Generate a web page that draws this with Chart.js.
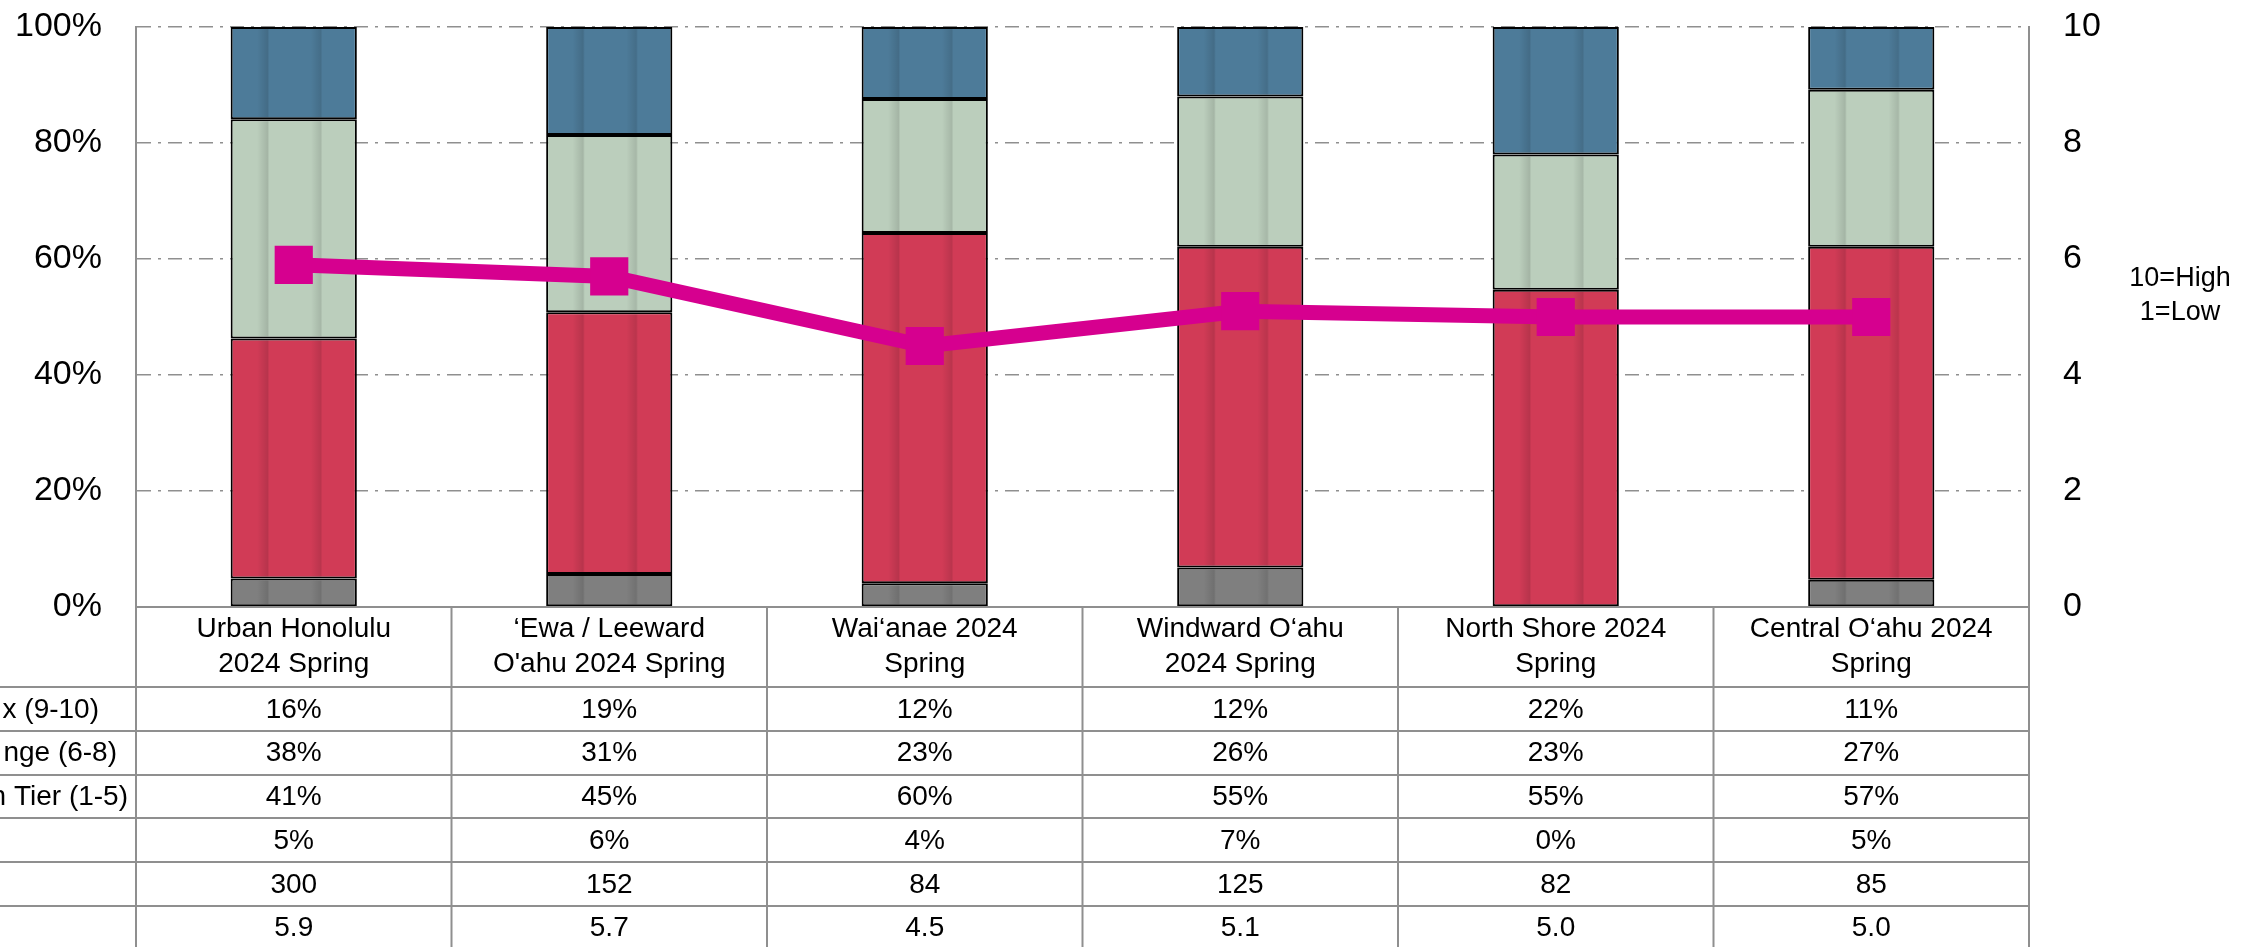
<!DOCTYPE html>
<html>
<head>
<meta charset="utf-8">
<script src="https://cdn.jsdelivr.net/npm/chart.js@4"></script>
<style>
  body { margin: 0; background: #fff; }
  #wrap { width: 2261px; height: 947px; position: relative; }
</style>
</head>
<body>
<div id="wrap"><canvas id="c"></canvas></div>
<script>
// categorías (encabezado de la tabla)
const regions = [
  ["Urban Honolulu", "2024 Spring"],
  ["‘Ewa / Leeward", "O'ahu 2024 Spring"],
  ["Wai‘anae 2024", "Spring"],
  ["Windward O‘ahu", "2024 Spring"],
  ["North Shore 2024", "Spring"],
  ["Central O‘ahu 2024", "Spring"],
];
// segmentos de las barras (%)
const topBox = [15.9, 18.6, 12.4, 12.0, 22.0, 10.8];
const midRange = [37.8, 30.6, 23.1, 25.9, 23.3, 27.1];
const lowTier = [41.4, 45.1, 60.4, 55.3, 54.7, 57.4];
const noAnswer = [4.9, 5.7, 4.1, 6.8, 0, 4.7];
// otras filas de la tabla
const counts = [300, 152, 84, 125, 82, 85];
const avgScore = [5.9, 5.7, 4.5, 5.1, 5.0, 5.0];
// etiquetas de fila (cortadas a la izquierda en el original)
const rowLabels = ["x (9-10)", "nge (6-8)", "n Tier (1-5)", "", "", ""];
const rowLabelEnds = [99, 117, 128, 0, 0, 0];
const yTicks = [0, 20, 40, 60, 80, 100];

const FONT = "'Liberation Sans', Arial, sans-serif";
const GRIDC = "#8f8f8f";

//franjas sombreadas verticales dentro de cada barra
const stripePlugin = {
  id: "stripes",
  afterDatasetDraw(chart, args) {
    const meta = args.meta;
    if (meta.type !== "bar") return;
    const ctx = chart.ctx;
    ctx.save();
    meta.data.forEach((el) => {
      const p = el.getProps(["x", "y", "base", "width"], true);
      const l = p.x - p.width / 2 + 2, r = p.x + p.width / 2 - 2;
      const t = Math.min(p.y, p.base) + 2, b = Math.max(p.y, p.base) - 2;
      if (b - t <= 0) return;
      const g = ctx.createLinearGradient(l, 0, r, 0);
      g.addColorStop(0, "rgba(0,0,0,0)");
      g.addColorStop(0.2, "rgba(0,0,0,0)");
      g.addColorStop(0.285, "rgba(0,0,0,0.12)");
      g.addColorStop(0.3, "rgba(0,0,0,0)");
      g.addColorStop(0.64, "rgba(0,0,0,0)");
      g.addColorStop(0.72, "rgba(0,0,0,0.11)");
      g.addColorStop(0.735, "rgba(0,0,0,0)");
      g.addColorStop(1, "rgba(0,0,0,0)");
      ctx.fillStyle = g;
      ctx.fillRect(l, t, r - l, b - t);
    });
    ctx.restore();
  },
};

//tabla de datos debajo del gráfico
const tablePlugin = {
  id: "table",
  afterDraw(chart) {
    const { ctx, chartArea: a, scales } = chart;
    const x = scales.x;
    const top = a.bottom, headH = 80, rowH = 43.75;
    const H = chart.height;
    ctx.save();
    ctx.strokeStyle = GRIDC;
    ctx.lineWidth = 2;
    ctx.beginPath();
    ctx.moveTo(a.left, top);
    ctx.lineTo(a.right, top);
    for (let r = 0; r <= 6; r++) {
      const y = Math.round(top + headH + r * rowH);
      ctx.moveTo(0, y);
      ctx.lineTo(a.right, y);
    }
    // bordes verticales
    ctx.moveTo(a.left, a.top);
    ctx.lineTo(a.left, H);
    ctx.moveTo(a.right, a.top);
    ctx.lineTo(a.right, H);
    for (let i = 1; i < regions.length; i++) {
      const bx = (x.getPixelForValue(i - 1) + x.getPixelForValue(i)) / 2;
      ctx.moveTo(bx, top);
      ctx.lineTo(bx, H);
    }
    ctx.stroke();

    // textos
    ctx.fillStyle = "#000";
    ctx.font = "28px " + FONT;
    ctx.textBaseline = "middle";
    const rows = [
      topBox.map((v) => Math.round(v) + "%"),
      midRange.map((v) => Math.round(v) + "%"),
      lowTier.map((v) => Math.round(v) + "%"),
      noAnswer.map((v) => Math.round(v) + "%"),
      counts.map((v) => String(v)),
      avgScore.map((v) => v.toFixed(1)),
    ];
    rows.forEach((vals, r) => {
      const y = top + headH + r * rowH + rowH / 2 + 1;
      ctx.textAlign = "center";
      vals.forEach((t, i) => ctx.fillText(t, x.getPixelForValue(i), y));
      if (rowLabels[r]) {
        ctx.textAlign = "right";
        ctx.fillText(rowLabels[r], rowLabelEnds[r], y);
      }
    });

    // nota del eje derecho
    ctx.textAlign = "center";
    ctx.font = "27px " + FONT;
    ctx.fillText("10=High", 2180, 279);
    ctx.fillText("1=Low", 2180, 313);
    ctx.restore();
  },
};

const barDs = (label, data, color) => ({
  type: "bar",
  label,
  data,
  backgroundColor: color,
  borderColor: "#000",
  borderWidth: 2,
  borderSkipped: false,
  yAxisID: "y",
  order: 1,
  barPercentage: 0.4,
  categoryPercentage: 1,
});

// quitar el relleno extra que Chart.js suma arriba/abajo por ticks.padding
const fixVPad = (w) => (s) => {
  s.width = w;
  s.paddingTop = 0;
  s.paddingBottom = 0;
};

const ctx = document.getElementById("c").getContext("2d");
new Chart(ctx, {
  data: {
    labels: regions,
    datasets: [
      {
        type: "line",
        label: "Average",
        data: avgScore,
        yAxisID: "y1",
        order: 0,
        borderColor: "#D6008F",
        backgroundColor: "#D6008F",
        borderWidth: 15,
        pointStyle: "rect",
        pointRadius: 27,
        pointHoverRadius: 27,
        pointBorderWidth: 0,
        pointBackgroundColor: "#D6008F",
        tension: 0,
      },
      barDs("No answer", noAnswer, "#7F7F7F"),
      barDs("Low Tier (1-5)", lowTier, "#D13B56"),
      barDs("Mid Range (6-8)", midRange, "#BBCEBC"),
      barDs("Top Box (9-10)", topBox, "#4D7B99"),
    ],
  },
  options: {
    responsive: true,
    maintainAspectRatio: false,
    animation: false,
    layout: { padding: { top: 23, left: 0, right: 0, bottom: 0 } },
    plugins: { legend: { display: false }, tooltip: { enabled: false } },
    scales: {
      x: {
        stacked: true,
        afterFit: (s) => { s.height = 340; },
        grid: { display: false, drawTicks: false },
        border: { display: false },
        ticks: {
          autoSkip: false,
          maxRotation: 0,
          padding: 5,
          color: "#000",
          font: { size: 28, family: FONT, lineHeight: 1.25 },
        },
      },
      y: {
        stacked: true,
        min: 0,
        max: 100,
        afterFit: fixVPad(136),
        afterBuildTicks: (s) => { s.ticks = yTicks.map((v) => ({ value: v })); },
        grid: { color: GRIDC, lineWidth: 1.5, drawTicks: false },
        border: { display: true, color: GRIDC, width: 2, dash: [14, 7, 3, 7] },
        ticks: {
          padding: 34,
          color: "#000",
          font: { size: 34, family: FONT },
          callback: (v) => v + "%",
        },
      },
      y1: {
        position: "right",
        min: 0,
        max: 10,
        afterFit: fixVPad(232),
        grid: { display: false, drawTicks: false },
        border: { display: true, color: GRIDC, width: 2 },
        ticks: {
          stepSize: 2,
          padding: 34,
          color: "#000",
          font: { size: 34, family: FONT },
        },
      },
    },
  },
  plugins: [stripePlugin, tablePlugin],
});
</script>
</body>
</html>
